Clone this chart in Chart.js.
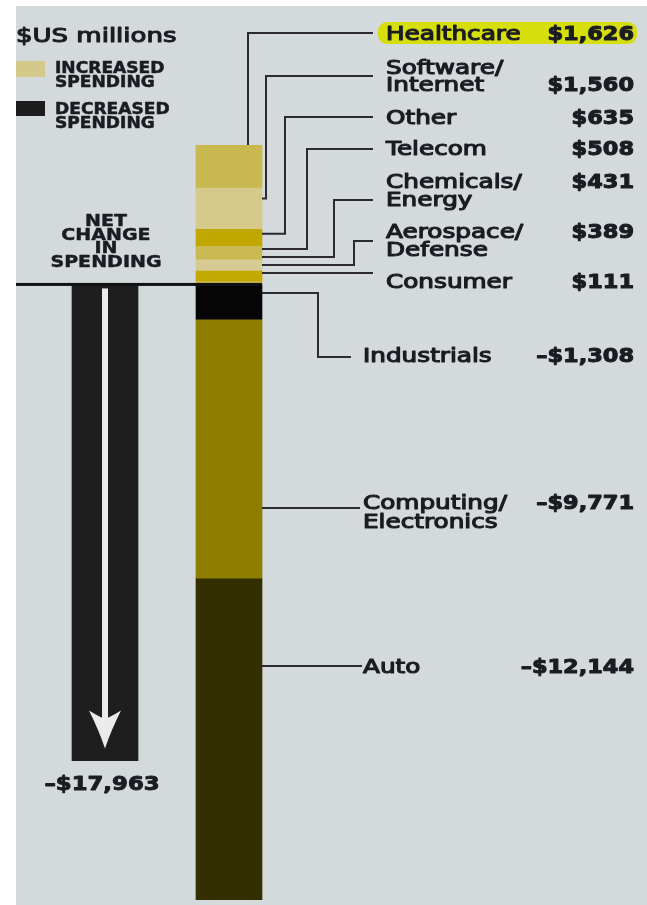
<!DOCTYPE html>
<html>
<head>
<meta charset="utf-8">
<script src="https://cdn.jsdelivr.net/npm/chart.js@4.4.1/dist/chart.umd.min.js"></script>
<style>
  html, body { margin: 0; padding: 0; background: #fff; }
  canvas { display: block; }
</style>
</head>
<body>
<canvas id="spendChart" width="647" height="905"></canvas>
<script>
// sectors, top of the column to the bottom
const categories = ['Healthcare', 'Software/Internet', 'Other', 'Telecom', 'Chemicals/Energy',
  'Aerospace/Defense', 'Consumer', 'Industrials', 'Computing/Electronics', 'Auto'];
const values = [1626, 1560, 635, 508, 431, 389, 111, -1308, -9771, -12144];
const netChange = -17963;
const columns = ['Net change', 'By sector'];

const sectorColors = ['#c9b84f', '#d5ca8a', '#c0a800', '#cab953', '#d6cc93',
  '#c4aa00', '#c8b448', '#050505', '#8e7e00', '#332f00'];

// where each callout sits on the right-hand side
const callouts = [
  { lines: [33], valueLine: 0, lineY: 33, elbowX: 248, lineEnd: 373, textX: 386, toTop: true, highlight: true },
  { lines: [67, 84], valueLine: 1, lineY: 76, elbowX: 266, lineEnd: 373, textX: 386 },
  { lines: [117], valueLine: 0, lineY: 117, elbowX: 285, lineEnd: 373, textX: 386 },
  { lines: [148], valueLine: 0, lineY: 149, elbowX: 307, lineEnd: 373, textX: 386 },
  { lines: [181, 199], valueLine: 0, lineY: 200, elbowX: 334, lineEnd: 373, textX: 386 },
  { lines: [231, 249], valueLine: 0, lineY: 241, elbowX: 354, lineEnd: 373, textX: 386 },
  { lines: [281], valueLine: 0, lineY: 273, elbowX: null, lineEnd: 373, textX: 386 },
  { lines: [355], valueLine: 0, lineY: 357, elbowX: 318, lineEnd: 351, textX: 363 },
  { lines: [502, 521], valueLine: 0, lineY: 508, elbowX: null, lineEnd: 360, textX: 363 },
  { lines: [666], valueLine: 0, lineY: 666, elbowX: null, lineEnd: 362, textX: 363 }
];

const INK = '#1b1b22';
const LINE = '#2a2a30';

function money(v) {
  return (v < 0 ? '\u2013' : '') + '$' + Math.abs(v).toLocaleString('en-US');
}

function splitLabel(name) {
  const i = name.indexOf('/');
  return i < 0 ? [name] : [name.slice(0, i + 1), name.slice(i + 1)];
}

// text drawn wide, like the original lettering
function wideText(ctx, s, x, y, size, weight, align, sx, stroke) {
  ctx.save();
  ctx.font = weight + ' ' + size + 'px "DejaVu Sans"';
  ctx.textBaseline = 'alphabetic';
  ctx.textAlign = 'left';
  const w = ctx.measureText(s).width * sx;
  const x0 = align === 'right' ? x - w : align === 'center' ? x - w / 2 : x;
  ctx.translate(x0, y + size * 0.365);
  ctx.scale(sx, 1);
  ctx.fillStyle = INK;
  ctx.fillText(s, 0, 0);
  if (stroke) {
    ctx.strokeStyle = INK;
    ctx.lineWidth = stroke;
    ctx.lineJoin = 'round';
    ctx.strokeText(s, 0, 0);
  }
  ctx.restore();
}

const posIdx = values.map((v, i) => i).filter(i => values[i] > 0).reverse();
const negIdx = values.map((v, i) => i).filter(i => values[i] < 0);

const datasets = [...posIdx, ...negIdx].map(i => ({
  label: categories[i],
  data: [null, values[i]],
  backgroundColor: sectorColors[i],
  sector: i,
  stack: 'all'
}));
datasets.push({ label: 'Net change', data: [netChange, null], backgroundColor: '#1e1e1e', stack: 'all' });

const yMax = values.filter(v => v > 0).reduce((a, b) => a + b, 0);
const yMin = values.filter(v => v < 0).reduce((a, b) => a + b, 0);

const backdrop = {
  id: 'backdrop',
  beforeDraw(chart) {
    const ctx = chart.ctx;
    ctx.save();
    ctx.fillStyle = '#ffffff';
    ctx.fillRect(0, 0, chart.width, chart.height);
    ctx.fillStyle = '#d4d9dc';
    ctx.fillRect(16, 6, chart.width - 16, chart.height - 6);
    ctx.restore();
  }
};

const annotations = {
  id: 'annotations',
  afterDatasetsDraw(chart) {
    const ctx = chart.ctx;
    const y = chart.scales.y;
    const zeroY = y.getPixelForValue(0);

    // segment box for every sector
    const seg = {};
    chart.data.datasets.forEach((ds, di) => {
      if (ds.sector === undefined) return;
      const el = chart.getDatasetMeta(di).data[1];
      seg[ds.sector] = {
        top: Math.min(el.y, el.base), bottom: Math.max(el.y, el.base),
        left: el.x - el.width / 2, right: el.x + el.width / 2
      };
    });
    const netEl = chart.getDatasetMeta(chart.data.datasets.length - 1).data[0];
    const barRight = seg[0].right;

    // zero line
    ctx.save();
    ctx.fillStyle = '#111';
    ctx.fillRect(16, zeroY - 1.5, barRight - 16, 3);

    // arrow inside the net bar
    const cx = netEl.x;
    const tip = netEl.y - 12;
    ctx.fillStyle = '#ebebeb';
    ctx.fillRect(cx - 3, zeroY + 4, 6, tip - 30 - zeroY);
    ctx.beginPath();
    ctx.moveTo(cx - 16, tip - 38);
    ctx.quadraticCurveTo(cx - 3, tip - 30, cx, tip - 30);
    ctx.quadraticCurveTo(cx + 3, tip - 30, cx + 16, tip - 38);
    ctx.quadraticCurveTo(cx + 6, tip - 18, cx, tip);
    ctx.quadraticCurveTo(cx - 6, tip - 18, cx - 16, tip - 38);
    ctx.fill();
    ctx.restore();

    // net label
    ['NET', 'CHANGE', 'IN', 'SPENDING'].forEach((s, k) => {
      wideText(ctx, s, cx + 1, zeroY - 64 + k * 13.7, 15, 'bold', 'center', 1.27, 0.4);
    });
    wideText(ctx, money(netChange), cx - 3, netEl.y + 22, 19, 'bold', 'center', 1.2, 0.9);

    // where leaders meet the column
    const attach = callouts.map((c, i) => seg[i].top + 0.25 * (seg[i].bottom - seg[i].top));
    callouts.forEach((c, i) => { if (c.elbowX === null) attach[i] = c.lineY; });
    for (let i = posIdx.length - 2; i >= 1; i--) {
      attach[i] = Math.min(attach[i], attach[i + 1] - 8);
    }

    ctx.save();
    ctx.strokeStyle = LINE;
    ctx.lineWidth = 2;
    ctx.lineJoin = 'miter';
    callouts.forEach((c, i) => {
      ctx.beginPath();
      ctx.moveTo(c.lineEnd, c.lineY);
      if (c.toTop) {
        ctx.lineTo(c.elbowX, c.lineY);
        ctx.lineTo(c.elbowX, seg[i].top);
      } else if (c.elbowX !== null) {
        ctx.lineTo(c.elbowX, c.lineY);
        ctx.lineTo(c.elbowX, attach[i]);
        ctx.lineTo(barRight, attach[i]);
      } else {
        ctx.lineTo(barRight, c.lineY);
      }
      ctx.stroke();
    });
    ctx.restore();

    // labels and values
    callouts.forEach((c, i) => {
      if (c.highlight) {
        ctx.save();
        ctx.fillStyle = '#d6de0c';
        ctx.beginPath();
        ctx.roundRect(378, c.lines[0] - 11, 259, 22, 9);
        ctx.fill();
        ctx.restore();
      }
      splitLabel(categories[i]).forEach((s, k) => {
        wideText(ctx, s, c.textX, c.lines[k], 19, 'normal', 'left', 1.3, 1.1);
      });
      wideText(ctx, money(values[i]), 634, c.lines[c.valueLine], 19, 'bold', 'right', 1.18, 1.0);
    });

    // legend
    wideText(ctx, '$US millions', 16, 35, 20, 'normal', 'left', 1.3, 1.1);
    ctx.save();
    ctx.fillStyle = '#d4c98a';
    ctx.fillRect(16, 61, 29, 16);
    ctx.fillStyle = '#1c1c1c';
    ctx.fillRect(16, 101, 29, 15);
    ctx.restore();
    wideText(ctx, 'INCREASED', 55, 68, 15, 'bold', 'left', 1.14, 0.5);
    wideText(ctx, 'SPENDING', 55, 82, 15, 'bold', 'left', 1.14, 0.5);
    wideText(ctx, 'DECREASED', 55, 109, 15, 'bold', 'left', 1.14, 0.5);
    wideText(ctx, 'SPENDING', 55, 123, 15, 'bold', 'left', 1.14, 0.5);
  }
};

new Chart(document.getElementById('spendChart'), {
  type: 'bar',
  data: { labels: columns, datasets: datasets },
  options: {
    responsive: false,
    animation: false,
    events: [],
    layout: { padding: { left: 43, right: 356, top: 145, bottom: 5 } },
    datasets: { bar: { barThickness: 66, borderWidth: 0 } },
    scales: {
      x: { stacked: true, display: false },
      y: { stacked: true, display: false, min: yMin, max: yMax }
    },
    plugins: {
      legend: { display: false },
      tooltip: { enabled: false }
    }
  },
  plugins: [backdrop, annotations]
});
</script>
</body>
</html>
